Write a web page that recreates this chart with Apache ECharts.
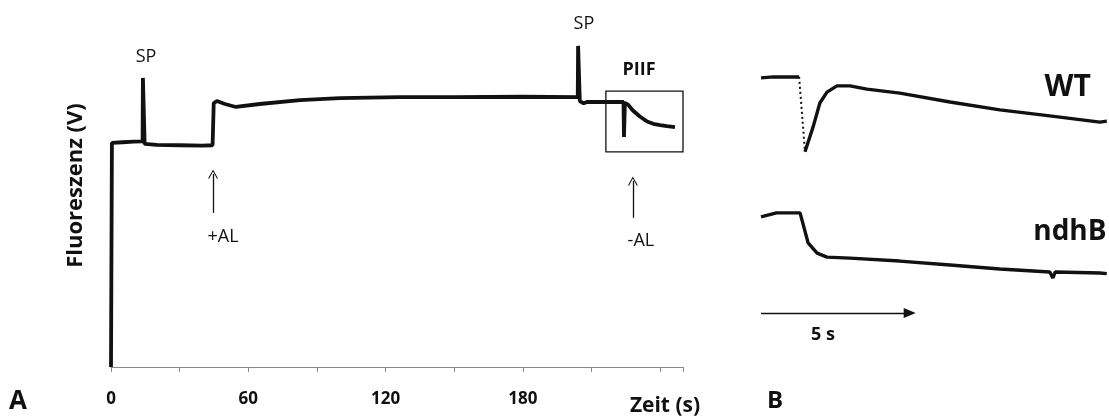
<!DOCTYPE html>
<html lang="de">
<head>
<meta charset="UTF-8">
<title>PIIF</title>
<style>html,body{margin:0;padding:0;background:#fff;}</style>
</head>
<body>
<div id="main" style="width:1109px;height:418px;"></div>
<script src="https://cdn.jsdelivr.net/npm/echarts/dist/echarts.min.js"></script>
<script>
// A: Fluoreszenzverlauf, Zeit (s) und relative Fluoreszenz
var zeitA  = [0, 0.4, 5, 10, 13.8, 13.95, 14.55, 14.7, 20, 30, 40, 44.4, 44.9, 46.3, 49.8, 54.6, 65, 82.6,
              100, 126, 150, 180, 204.0, 204.15, 204.75, 204.9, 206.6, 208, 215, 224.0, 224.2, 224.5, 224.6,
              226, 228, 231, 234.3, 237, 240, 243, 246.5];
var fluorA = [0, 0.679, 0.681, 0.683, 0.684, 0.876, 0.876, 0.676, 0.673, 0.672, 0.671, 0.672, 0.800, 0.806, 0.797, 0.788, 0.797, 0.809,
              0.815, 0.818, 0.818, 0.819, 0.818, 0.973, 0.973, 0.806, 0.799, 0.803, 0.803, 0.803, 0.697, 0.697, 0.800,
              0.795, 0.778, 0.760, 0.744, 0.737, 0.733, 0.730, 0.727];
var tickLabelsA = [0, 60, 120, 180];

// B: PIIF-Ausschnitt, Zeit (s)
var wtZeit  = [0, 0.4, 0.8, 1.23, 1.42, 1.68, 1.90, 2.13, 2.45, 2.87, 3.42, 4.48, 6.10, 7.71, 9.32, 10.94, 11.16];
var wtFluor = [0.876, 0.879, 0.879, 0.879, 0.652, 0.727, 0.800, 0.833, 0.852, 0.852, 0.842, 0.830, 0.803, 0.779, 0.761, 0.742, 0.745];
var ndhZeit  = [0, 0.5, 1.0, 1.26, 1.35, 1.52, 1.81, 2.13, 2.87, 4.48, 6.10, 7.71, 9.32, 9.42, 9.5, 10.94, 11.16];
var ndhFluor = [0.455, 0.467, 0.467, 0.467, 0.436, 0.376, 0.345, 0.333, 0.330, 0.321, 0.309, 0.297, 0.288, 0.270, 0.288, 0.285, 0.283];

function zip(xs, ys) {
    return xs.map(function (x, i) { return [x, ys[i]]; });
}
var wtAll = zip(wtZeit, wtFluor);

var FONT = '"Open Sans", sans-serif';
var chevron = 'path://M0,10 L5,0 L10,10 L8.8,10 L5,2.4 L1.2,10 Z';

function txt(name, coord, size, weight) {
    return {
        name: name, coord: coord,
        label: { show: true, position: 'inside', formatter: name, color: '#111',
                 fontFamily: FONT, fontSize: size, fontWeight: weight || 'normal' }
    };
}

var myChart = echarts.init(document.getElementById('main'));

myChart.setOption({
    animation: false,
    backgroundColor: '#fff',
    grid: [
        { left: 111, right: 426, top: 4, bottom: 51 },
        { left: 761, right: 1, top: 4, bottom: 51 }
    ],
    xAxis: [{
        gridIndex: 0, type: 'value', min: 0, max: 250, interval: 30,
        axisLine: { lineStyle: { color: '#8a8a8a', width: 1 } },
        axisTick: { length: 5, lineStyle: { color: '#8a8a8a' } },
        splitLine: { show: false },
        axisLabel: {
            margin: 24, fontSize: 17, fontWeight: 'bold', color: '#111', fontFamily: FONT,
            formatter: function (v) { return tickLabelsA.indexOf(v) >= 0 ? String(v) : ''; }
        }
    }, {
        gridIndex: 1, type: 'value', min: 0, max: 11.2, show: false
    }],
    yAxis: [{
        gridIndex: 0, type: 'value', min: 0, max: 1.1,
        axisLine: { show: false }, axisTick: { show: false },
        axisLabel: { show: false }, splitLine: { show: false },
        name: 'Fluoreszenz (V)', nameLocation: 'middle', nameRotate: 90, nameGap: 24,
        nameTextStyle: { fontFamily: FONT, fontSize: 22, fontWeight: 'bold', color: '#111' }
    }, {
        gridIndex: 1, type: 'value', min: 0, max: 1.1, show: false
    }],
    series: [{
        type: 'line', xAxisIndex: 0, yAxisIndex: 0,
        data: zip(zeitA, fluorA), showSymbol: false, silent: true,
        lineStyle: { color: '#111', width: 3.8 },
        markArea: {
            silent: true,
            itemStyle: { color: 'rgba(0,0,0,0)', borderColor: '#111', borderWidth: 1.3 },
            data: [[{ coord: [216.3, 0.652] }, { coord: [250, 0.836] }]]
        },
        markLine: {
            silent: true, symbol: ['none', chevron], symbolSize: [10, 9],
            label: { show: false },
            lineStyle: { color: '#111', width: 1.3, type: 'solid' },
            data: [
                [{ coord: [44.6, 0.467] }, { coord: [44.6, 0.585] }],
                [{ coord: [228.1, 0.452] }, { coord: [228.1, 0.564] }]
            ]
        },
        markPoint: {
            silent: true, symbol: 'circle', symbolSize: 1, itemStyle: { color: 'rgba(0,0,0,0)' },
            data: [
                txt('SP', [15.3, 0.939], 18),
                txt('SP', [206.7, 1.039], 18),
                txt('PIIF', [230.8, 0.900], 18, 'bold'),
                txt('+AL', [49.0, 0.394], 18),
                txt('-AL', [231.6, 0.382], 18)
            ]
        }
    }, {
        type: 'line', xAxisIndex: 1, yAxisIndex: 1, silent: true,
        data: wtAll.slice(0, 4), showSymbol: false,
        lineStyle: { color: '#111', width: 3.4 }
    }, {
        type: 'line', xAxisIndex: 1, yAxisIndex: 1, silent: true,
        data: wtAll.slice(3, 5), showSymbol: false,
        lineStyle: { color: '#111', width: 2, type: [2, 3] }
    }, {
        type: 'line', xAxisIndex: 1, yAxisIndex: 1, silent: true,
        data: wtAll.slice(4), showSymbol: false,
        lineStyle: { color: '#111', width: 3.4 }
    }, {
        type: 'line', xAxisIndex: 1, yAxisIndex: 1, silent: true,
        data: zip(ndhZeit, ndhFluor), showSymbol: false,
        lineStyle: { color: '#111', width: 3.4 },
        markLine: {
            silent: true, symbol: ['none', 'triangle'], symbolSize: [10, 12],
            label: { show: false },
            lineStyle: { color: '#111', width: 1.3, type: 'solid' },
            data: [[{ coord: [0, 0.164] }, { coord: [4.8, 0.164] }]]
        },
        markPoint: {
            silent: true, symbol: 'circle', symbolSize: 1, itemStyle: { color: 'rgba(0,0,0,0)' },
            data: [
                txt('WT', [9.9, 0.848], 30, 'bold'),
                txt('ndhB', [9.97, 0.409], 28, 'bold'),
                txt('5 s', [2.0, 0.097], 18, 'bold')
            ]
        }
    }],
    graphic: [
        { type: 'text', style: { x: 18, y: 402, text: 'A', align: 'center', verticalAlign: 'middle',
            font: 'bold 26px "Open Sans", sans-serif', fill: '#111' } },
        { type: 'text', style: { x: 775, y: 401, text: 'B', align: 'center', verticalAlign: 'middle',
            font: 'bold 24px "Open Sans", sans-serif', fill: '#111' } },
        { type: 'text', style: { x: 665, y: 406, text: 'Zeit (s)', align: 'center', verticalAlign: 'middle',
            font: 'bold 21px "Open Sans", sans-serif', fill: '#111' } }
    ]
});
</script>
</body>
</html>
